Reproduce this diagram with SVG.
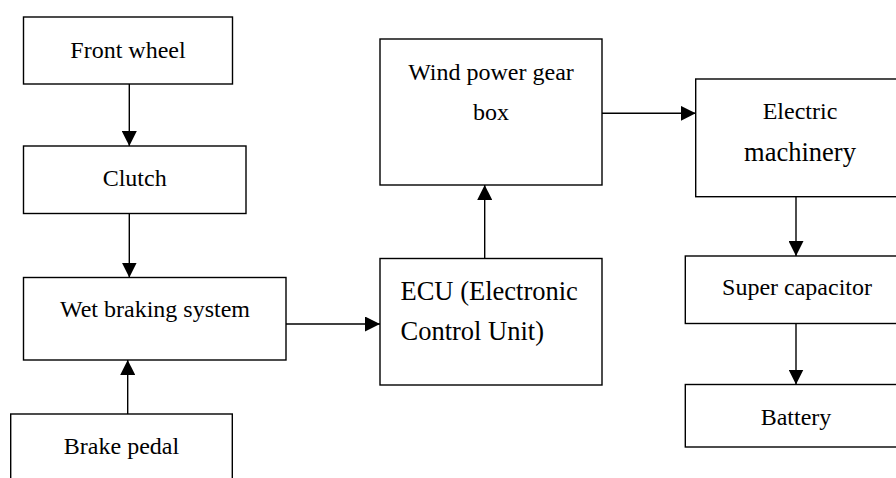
<svg xmlns="http://www.w3.org/2000/svg" width="896" height="478" viewBox="0 0 896 478">
<style>
.box{fill:#fff;stroke:#000;stroke-width:1.4}
text{font-family:'Liberation Serif','DejaVu Serif',serif;fill:#000}
.t{font-size:24px;text-anchor:middle}
.tl{font-size:26.5px}
.c{fill:none;stroke:#000;stroke-width:1.4}
</style>
<defs>
<marker id="ah" markerUnits="userSpaceOnUse" markerWidth="15" markerHeight="15" viewBox="0 0 15 15" refX="15" refY="7.5" orient="auto">
<path d="M0,0 L15,7.5 L0,15 Z" fill="#000"/>
</marker>
</defs>
<rect width="896" height="478" fill="#fff"/>
<g id="front-wheel"><rect class="box" x="23.5" y="17" width="209" height="67"/><text class="t" x="128" y="57.5" font-family="Liberation Serif">Front wheel</text></g>
<g id="clutch"><rect class="box" x="23.5" y="146" width="222.5" height="67.5"/><text class="t" x="134.7" y="186">Clutch</text></g>
<g id="wet-braking"><rect class="box" x="23.5" y="277.5" width="262.5" height="82.5"/><text class="t" x="155" y="317">Wet braking system</text></g>
<g id="brake-pedal"><rect class="box" x="10.7" y="414" width="221.6" height="100"/><text class="t" x="121.5" y="453.5">Brake pedal</text></g>
<g id="ecu"><rect class="box" x="380" y="258.5" width="222" height="126.5"/><text class="tl" x="400.5" y="299.5">ECU (Electronic</text><text class="tl" x="400.5" y="340">Control Unit)</text></g>
<g id="wind-gearbox"><rect class="box" x="380" y="39" width="222" height="146"/><text class="t" x="491" y="79.5">Wind power gear</text><text class="t" x="491" y="120">box</text></g>
<g id="electric-machinery"><rect class="box" x="695.7" y="79" width="215" height="117.7"/><text class="t" x="800" y="119">Electric</text><text class="t" x="800" y="161" style="font-size:26.5px">machinery</text></g>
<g id="super-capacitor"><rect class="box" x="685.3" y="256" width="225" height="67.5"/><text class="t" x="797" y="295">Super capacitor</text></g>
<g id="battery"><rect class="box" x="685.3" y="384.5" width="225" height="62.5"/><text class="t" x="796" y="425">Battery</text></g>
<g id="connectors">
<line class="c" x1="129.3" y1="84" x2="129.3" y2="146" marker-end="url(#ah)"/>
<line class="c" x1="129.3" y1="213.5" x2="129.3" y2="277.5" marker-end="url(#ah)"/>
<line class="c" x1="127.7" y1="414" x2="127.7" y2="360" marker-end="url(#ah)"/>
<line class="c" x1="286" y1="324" x2="380" y2="324" marker-end="url(#ah)"/>
<line class="c" x1="484.7" y1="258.5" x2="484.7" y2="185" marker-end="url(#ah)"/>
<line class="c" x1="602" y1="113.3" x2="695.7" y2="113.3" marker-end="url(#ah)"/>
<line class="c" x1="796" y1="196.7" x2="796" y2="256" marker-end="url(#ah)"/>
<line class="c" x1="796" y1="323.5" x2="796" y2="384.5" marker-end="url(#ah)"/>
</g>
</svg>
